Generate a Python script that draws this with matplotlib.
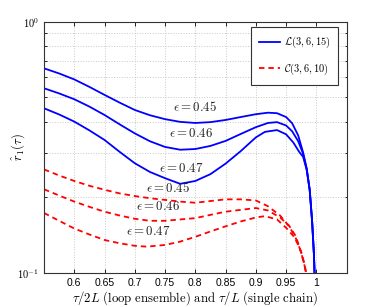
import numpy as np
import matplotlib
matplotlib.use('Agg')
import matplotlib.pyplot as plt
from matplotlib.ticker import FixedLocator, FixedFormatter, NullFormatter

plt.rcParams['mathtext.fontset'] = 'cm'
plt.rcParams['font.family'] = ['Liberation Sans', 'DejaVu Sans']

# blue: L(3,6,15), eps = 0.45, 0.46, 0.47
x_b45 = [0.55, 0.575, 0.60, 0.625, 0.65, 0.675, 0.70, 0.725, 0.75, 0.775, 0.80, 0.825, 0.85, 0.875, 0.90,
         0.92, 0.935, 0.95, 0.96, 0.97, 0.978, 0.984, 0.989, 0.993, 0.996, 0.997]
y_b45 = [0.652, 0.622, 0.589, 0.550, 0.511, 0.476, 0.445, 0.424, 0.409, 0.399, 0.395, 0.398, 0.406, 0.417, 0.428,
         0.434, 0.432, 0.417, 0.394, 0.352, 0.302, 0.260, 0.214, 0.160, 0.118, 0.100]
x_b46 = [0.55, 0.575, 0.60, 0.625, 0.65, 0.675, 0.70, 0.725, 0.75, 0.775, 0.80, 0.825, 0.85, 0.875, 0.90,
         0.92, 0.935, 0.95, 0.96, 0.97, 0.978, 0.984, 0.989, 0.993, 0.996, 0.997]
y_b46 = [0.543, 0.518, 0.491, 0.459, 0.425, 0.390, 0.359, 0.334, 0.317, 0.309, 0.311, 0.320, 0.335, 0.357, 0.380,
         0.395, 0.398, 0.386, 0.366, 0.334, 0.298, 0.259, 0.214, 0.160, 0.118, 0.100]
x_b47 = [0.55, 0.575, 0.60, 0.625, 0.65, 0.675, 0.70, 0.725, 0.75, 0.775, 0.80, 0.825, 0.85, 0.875, 0.90,
         0.915, 0.935, 0.95, 0.962, 0.972, 0.978, 0.984, 0.989, 0.993, 0.996, 0.997]
y_b47 = [0.452, 0.427, 0.400, 0.369, 0.338, 0.303, 0.273, 0.252, 0.238, 0.226, 0.232, 0.247, 0.272, 0.305, 0.346,
         0.364, 0.370, 0.356, 0.330, 0.302, 0.290, 0.257, 0.213, 0.160, 0.118, 0.100]

# red dashed: C(3,6,10), eps = 0.45, 0.46, 0.47
x_r45 = [0.55, 0.575, 0.60, 0.625, 0.65, 0.675, 0.70, 0.725, 0.75, 0.775, 0.80, 0.825, 0.85, 0.875, 0.90,
         0.92, 0.94, 0.955, 0.965, 0.97, 0.975, 0.98, 0.983]
y_r45 = [0.258, 0.244, 0.232, 0.222, 0.214, 0.207, 0.202, 0.198, 0.195, 0.192, 0.190, 0.193, 0.196, 0.196, 0.194,
         0.184, 0.169, 0.153, 0.139, 0.130, 0.120, 0.108, 0.100]
x_r46 = [0.55, 0.575, 0.60, 0.625, 0.65, 0.675, 0.70, 0.725, 0.75, 0.775, 0.80, 0.825, 0.85, 0.875, 0.90,
         0.92, 0.94, 0.955, 0.965, 0.97, 0.975, 0.98, 0.983]
y_r46 = [0.215, 0.203, 0.192, 0.183, 0.175, 0.169, 0.164, 0.161, 0.161, 0.163, 0.165, 0.170, 0.175, 0.178, 0.181,
         0.177, 0.166, 0.154, 0.141, 0.131, 0.120, 0.108, 0.100]
x_r47 = [0.55, 0.575, 0.60, 0.625, 0.65, 0.675, 0.70, 0.72, 0.75, 0.775, 0.80, 0.825, 0.85, 0.875, 0.90,
         0.915, 0.935, 0.95, 0.962, 0.968, 0.975, 0.98, 0.983]
y_r47 = [0.173, 0.161, 0.150, 0.142, 0.135, 0.131, 0.128, 0.127, 0.129, 0.133, 0.139, 0.146, 0.153, 0.160, 0.166,
         0.168, 0.163, 0.151, 0.140, 0.132, 0.121, 0.109, 0.100]

labels_blue = [(0.799, 0.457, r'$\epsilon = 0.45$'), (0.793, 0.357, r'$\epsilon = 0.46$'),
               (0.777, 0.261, r'$\epsilon = 0.47$')]
labels_red = [(0.755, 0.2176, r'$\epsilon = 0.45$'), (0.738, 0.183, r'$\epsilon = 0.46$'),
              (0.722, 0.1457, r'$\epsilon = 0.47$')]

fig = plt.figure(figsize=(3.78, 3.07), dpi=100)
ax = fig.add_axes([0.1164, 0.1117, 0.8006, 0.8176])

lw = 1.3
dash = (0, (3, 2.2))
ax.plot(x_b45, y_b45, color='b', lw=lw, label=r'$\mathcal{L}(3,6,15)$')
ax.plot(x_b46, y_b46, color='b', lw=lw)
ax.plot(x_b47, y_b47, color='b', lw=lw)
ax.plot(x_r45, y_r45, color='r', lw=lw, ls=dash, label=r'$\mathcal{C}(3,6,10)$')
ax.plot(x_r46, y_r46, color='r', lw=lw, ls=dash)
ax.plot(x_r47, y_r47, color='r', lw=lw, ls=dash)

for xx, yy, s in labels_blue + labels_red:
    ax.text(xx, yy, s, fontsize=9.3, ha='center', va='center', color='#222222')

ax.set_yscale('log')
ax.set_xlim(0.55, 1.05)
ax.set_ylim(0.1, 1.0)
ax.set_xticks([0.6, 0.65, 0.7, 0.75, 0.8, 0.85, 0.9, 0.95, 1.0])
ax.set_xticklabels(['0.6', '0.65', '0.7', '0.75', '0.8', '0.85', '0.9', '0.95', '1'])
ax.yaxis.set_major_locator(FixedLocator([0.1, 1.0]))
ax.yaxis.set_major_formatter(FixedFormatter([r'$\mathsf{10^{-1}}$', r'$\mathsf{10^{0}}$']))
ax.yaxis.set_minor_locator(FixedLocator([0.2, 0.3, 0.4, 0.5, 0.6, 0.7, 0.8, 0.9]))
ax.yaxis.set_minor_formatter(NullFormatter())
ax.tick_params(which='both', direction='in', top=True, right=True, labelsize=7.5, width=0.6)
ax.tick_params(which='major', length=3)
ax.tick_params(which='minor', length=1.8)
ax.grid(True, which='major', axis='x', ls=':', color='#c8c8c8', lw=0.7)
ax.grid(True, which='minor', axis='y', ls=':', color='#c8c8c8', lw=0.7)
for sp in ax.spines.values():
    sp.set_linewidth(0.8)
    sp.set_color('#333333')

ax.set_xlabel(r'$\tau/2L\ \mathrm{(loop\ ensemble)\ and}\ \tau/L\ \mathrm{(single\ chain)}$', fontsize=9.2)
ax.xaxis.set_label_coords(0.5, -0.066)
ax.set_ylabel(r'$\hat{r}_1(\tau)$', fontsize=9.2)
ax.yaxis.set_label_coords(-0.056, 0.5)

leg = ax.legend(loc='upper right', fontsize=7.5, fancybox=False, framealpha=1,
                edgecolor='#333333', handlelength=2.1, borderpad=0.75, labelspacing=1.1,
                bbox_to_anchor=(0.971, 0.978), borderaxespad=0, handletextpad=0.3)
leg.get_frame().set_linewidth(0.8)

fig.savefig('out.png', dpi=100)
